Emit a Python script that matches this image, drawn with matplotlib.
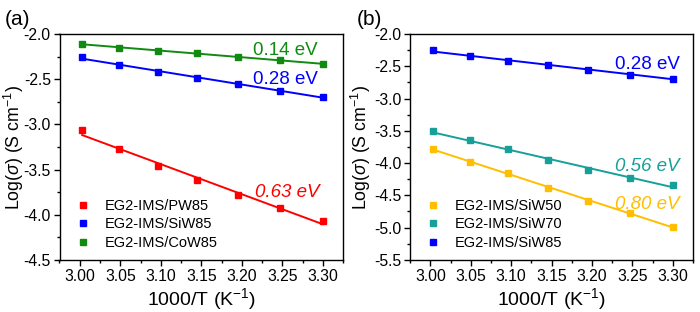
import numpy as np
import matplotlib
matplotlib.use("Agg")
import matplotlib.pyplot as plt
from matplotlib.ticker import MultipleLocator

plt.rcParams['font.family'] = ['Liberation Sans', 'DejaVu Sans']
plt.rcParams['mathtext.fontset'] = 'custom'
plt.rcParams['mathtext.rm'] = 'Liberation Sans'
plt.rcParams['mathtext.it'] = 'Liberation Sans:italic'

# ---- data ----
x_invT = [3.003, 3.049, 3.096, 3.145, 3.195, 3.247, 3.300]

# panel (a)
a_PW85 = [-3.066, -3.278, -3.463, -3.619, -3.778, -3.926, -4.067]
a_SiW85 = [-2.255, -2.347, -2.417, -2.487, -2.557, -2.627, -2.694]
a_CoW85 = [-2.111, -2.151, -2.184, -2.214, -2.251, -2.291, -2.332]

# panel (b)
b_SiW50 = [-3.776, -3.985, -4.158, -4.383, -4.582, -4.780, -4.985]
b_SiW70 = [-3.510, -3.650, -3.786, -3.949, -4.100, -4.235, -4.340]
b_SiW85 = [-2.255, -2.347, -2.413, -2.480, -2.550, -2.630, -2.690]

labels_a = ['EG2-IMS/PW85', 'EG2-IMS/SiW85', 'EG2-IMS/CoW85']
labels_b = ['EG2-IMS/SiW50', 'EG2-IMS/SiW70', 'EG2-IMS/SiW85']
ea_a = ['0.63 eV', '0.28 eV', '0.14 eV']
ea_b = ['0.80 eV', '0.56 eV', '0.28 eV']
xticks = [3.00, 3.05, 3.10, 3.15, 3.20, 3.25, 3.30]

RED = '#ff0000'
BLUE = '#0000ff'
GREEN = '#108a10'
TEAL = '#17a09a'
YELLOW = '#ffbe00'

fig = plt.figure(figsize=(7.0, 3.12), dpi=100)
axA = fig.add_axes([0.085, 0.167, 0.405, 0.724])
axB = fig.add_axes([0.586, 0.167, 0.404, 0.724])


def draw(ax, series, colors, labels):
    xa = np.array(x_invT)
    for ys, c, lab in zip(series, colors, labels):
        ys = np.array(ys)
        p = np.polyfit(xa, ys, 1)
        ax.plot(xa, np.polyval(p, xa), '-', color=c, lw=1.4, zorder=2)
        ax.plot(xa, ys, 's', color=c, ms=3.8, ls='none', label=lab, zorder=3)
    ax.set_xlim(2.975, 3.325)
    ax.set_xticks(xticks)
    ax.set_xticklabels([f'{t:.2f}' for t in xticks])
    ax.xaxis.set_minor_locator(MultipleLocator(0.025))
    ax.yaxis.set_major_locator(MultipleLocator(0.5))
    ax.yaxis.set_minor_locator(MultipleLocator(0.25))
    ax.yaxis.set_major_formatter(matplotlib.ticker.FormatStrFormatter('%.1f'))
    ax.tick_params(which='major', direction='out', length=4, width=1, labelsize=11.3, pad=2.3)
    ax.tick_params(which='minor', direction='out', length=2, width=1)
    for s in ax.spines.values():
        s.set_linewidth(1.0)
    ax.set_xlabel('1000/T (K$^{-1}$)', fontsize=14, labelpad=2)
    ax.set_ylabel('Log($\\mathit{\\sigma}$) (S cm$^{-1}$)', fontsize=12.8)
    leg = ax.legend(loc='lower left', frameon=False, fontsize=10.5, handlelength=0.6,
                    handletextpad=1.2, labelspacing=0.3, borderaxespad=0.3,
                    bbox_to_anchor=(0.03, 0.0))
    return leg


draw(axA, [a_PW85, a_SiW85, a_CoW85], [RED, BLUE, GREEN], labels_a)
axA.set_ylim(-4.5, -2.0)
axA.yaxis.set_label_coords(-0.118, 0.5)
axA.text(3.254, -2.177, ea_a[2], color=GREEN, fontsize=13.5, ha='center', va='center')
axA.text(3.254, -2.509, ea_a[1], color=BLUE, fontsize=13.5, ha='center', va='center')
axA.text(3.256, -3.759, ea_a[0], color=RED, fontsize=13.5, ha='center', va='center', style='italic')

draw(axB, [b_SiW50, b_SiW70, b_SiW85], [YELLOW, TEAL, BLUE], labels_b)
axB.set_ylim(-5.5, -2.0)
axB.yaxis.set_label_coords(-0.13, 0.5)
axB.text(3.268, -2.465, ea_b[2], color=BLUE, fontsize=13.5, ha='center', va='center')
axB.text(3.268, -4.06, ea_b[1], color=TEAL, fontsize=13.5, ha='center', va='center', style='italic')
axB.text(3.268, -4.648, ea_b[0], color=YELLOW, fontsize=13.5, ha='center', va='center', style='italic')

fig.text(0.007, 0.936, '(a)', fontsize=15, ha='left', va='center')
fig.text(0.51, 0.936, '(b)', fontsize=15, ha='left', va='center')

fig.savefig('out.png', dpi=100)
